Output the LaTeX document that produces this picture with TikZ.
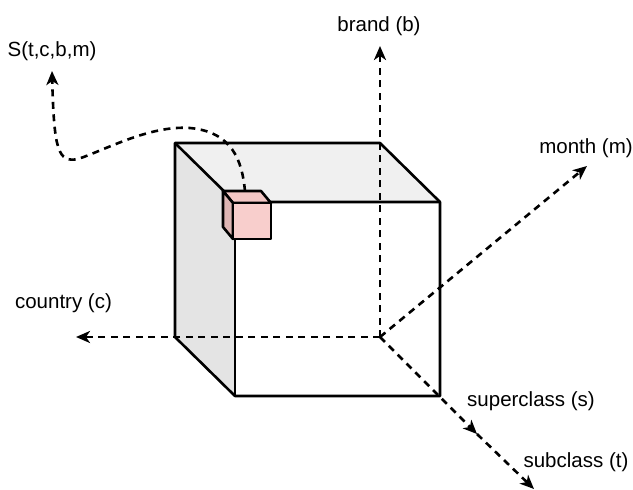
\documentclass[tikz,border=0pt]{standalone}
\usepackage{fontspec}
\setmainfont{Liberation Sans}
\usetikzlibrary{arrows.meta}
\definecolor{sidegray}{HTML}{E4E4E4}
\definecolor{topgray}{HTML}{F0F0F0}
\definecolor{pinkfront}{HTML}{F8CECC}
\definecolor{pinktop}{HTML}{F3C7C5}
\definecolor{pinkside}{HTML}{DDB5B3}
\tikzset{
  axis/.style={line width=2.6pt, dash pattern=on 7pt off 5.5pt,
    -{Stealth[length=14pt,width=12pt,inset=4pt]}},
  edge/.style={line width=2.6pt, line join=round},
  lbl/.style={font=\fontsize{20.5}{24}\selectfont, inner sep=0pt}
}
\begin{document}
\begin{tikzpicture}[x=1pt,y=-1pt]
\useasboundingbox (0,0) rectangle (633,490);
% corners of the large cube
\coordinate (A) at (175,143);
\coordinate (B) at (380,143);
\coordinate (C) at (440,202);
\coordinate (D) at (235,202);
\coordinate (E) at (235,396);
\coordinate (F) at (440,396);
\coordinate (G) at (175,337);
\coordinate (O) at (380,337);
% faces
\fill[topgray] (A) -- (B) -- (C) -- (D) -- cycle;
\fill[sidegray] (A) -- (D) -- (E) -- (G) -- cycle;
% axis end points
\coordinate (tb) at (380,46);
\coordinate (tc) at (76,337);
\coordinate (tm) at (587,166);
\coordinate (ts) at (477,434);
\coordinate (tt) at (534,489);
\coordinate (tS) at (52,71);
% labels
\node[lbl] (lb) at (379,26) {brand (b)};
\node[lbl] (lc) at (63.5,303) {country (c)};
\node[lbl] (lm) at (586,148) {month (m)};
\node[lbl] (ls) at (531,401) {superclass (s)};
\node[lbl] (lt) at (576,462) {subclass (t)};
\node[lbl] (lS) at (52,51) {S(t,c,b,m)};
% axes
\draw[axis] (O) -- (tb);
\draw[axis] (O) -- (tc);
\draw[axis] (O) -- (tm);
\draw[axis] (O) -- (ts);
\draw[axis] (ts) -- (tt);
% cube edges
\draw[edge] (A) -- (B) -- (C) -- (F) -- (E) -- (G) -- cycle;
\draw[edge] (A) -- (D) -- (C);
\draw[edge] (D) -- (E);
% small cell cube
\coordinate (p1) at (223,191);
\coordinate (p2) at (261,191);
\coordinate (p3) at (271,203);
\coordinate (p4) at (233,203);
\coordinate (p5) at (271,239);
\coordinate (p6) at (233,239);
\coordinate (p7) at (223,227);
\coordinate (cs) at (245,191);
% path from the cell to the value label
\draw[axis] (cs) .. controls (242,160) and (232,132) .. (190,128)
  .. controls (150,125) and (105,150) .. (78,159)
  .. controls (58,163) and (54,150) .. (tS);
\filldraw[edge, fill=pinktop] (p1) -- (p2) -- (p3) -- (p4) -- cycle;
\filldraw[edge, fill=pinkside] (p1) -- (p4) -- (p6) -- (p7) -- cycle;
\filldraw[edge, fill=pinkfront] (p4) -- (p3) -- (p5) -- (p6) -- cycle;
\end{tikzpicture}
\end{document}
